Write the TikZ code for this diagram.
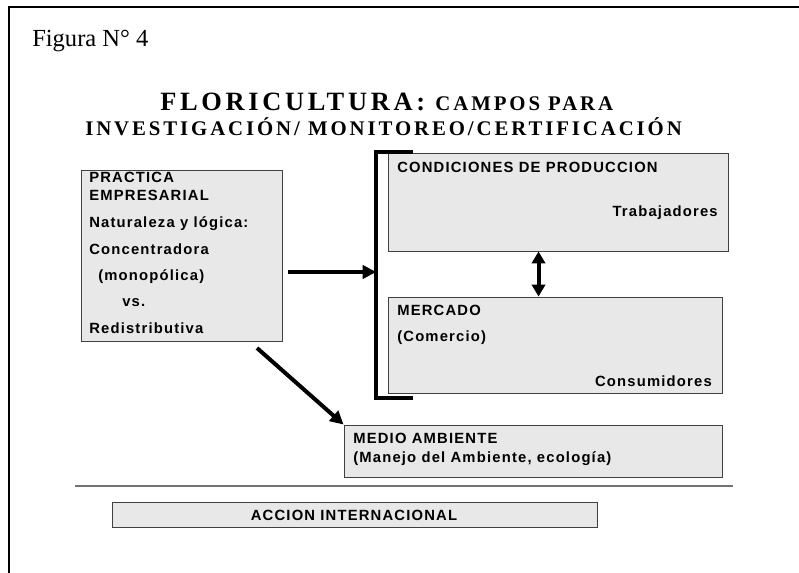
\documentclass[tikz,border=0pt]{standalone}
\usepackage{fontspec}
\setmainfont{Liberation Serif}
\newfontfamily\boxfont[LetterSpace=8]{Liberation Sans}
\newfontfamily\titlefont[LetterSpace=14]{Liberation Serif}
\usetikzlibrary{arrows.meta,fit,calc}

\begin{document}
\begin{tikzpicture}
	[x=0.75pt,y=-0.75pt,
	panel/.style = {
		draw=black!75,
		fill=black!9,
		line width=0.7pt,
		inner sep=0pt
	},
	txt/.style = {
		inner sep=0pt,
		anchor=base west,
		font=\boxfont\bfseries\fontsize{11.1}{13}\selectfont
	},
	rtxt/.style = {
		txt,
		anchor=base east
	},
	bigarrow/.style = {
		line width=3pt,
		-{Triangle[length=10pt,width=10pt]}
	},
	dblarrow/.style = {
		line width=3pt,
		{Triangle[length=9pt,width=10pt]}-{Triangle[length=9pt,width=10pt]}
	},
	frame/.style = {
		line width=2pt
	},
	bracket/.style = {
		line width=3pt
	},
	rule/.style = {
		line width=1.5pt,
		draw=black!55
	}]
	
	\useasboundingbox (0,0) rectangle (799,573);
	
	%Frame
	\coordinate (tl) at (9,7);
	\coordinate (tr) at (799,7);
	\coordinate (bl) at (9,573);
	\draw[frame] (tr) -- (tl) -- (bl);
	
	%Titles
	\node[inner sep=0pt,anchor=base west,font=\fontsize{18.4}{20}\selectfont] (fig) at (32,47) {Figura N° 4};
	\node[inner sep=0pt,anchor=base west,font=\titlefont\bfseries] (title1) at (160,111)
		{\fontsize{19.8}{22}\selectfont FLORICULTURA: \fontsize{15.6}{17}\selectfont CAMPOS PARA};
	\node[inner sep=0pt,anchor=base west,font=\titlefont\bfseries\fontsize{15.6}{18}\selectfont] (title2) at (85,136)
		{INVESTIGACIÓN/ MONITOREO/CERTIFICACIÓN};
	
	%Draw panels
	\node[panel, fit={(81,170) (282,341)}] (practica) {};
	\node[panel, fit={(388,153) (728,251)}] (condiciones) {};
	\node[panel, fit={(388,297) (722,393)}] (mercado) {};
	\node[panel, fit={(344,425) (722,477)}] (medio) {};
	\node[panel, fit={(112,502) (597,527)}] (accion) {};
	
	%Panel texts
	\node[txt] (p1) at (89,183) {PRACTICA};
	\node[txt] (p2) at (89,201) {EMPRESARIAL};
	\node[txt] (p3) at (89,228) {Naturaleza y lógica:};
	\node[txt] (p4) at (89,255) {Concentradora};
	\node[txt] (p5) at (98,281) {(monopólica)};
	\node[txt] (p6) at (122,307) {vs.};
	\node[txt] (p7) at (89,334) {Redistributiva};
	
	\node[txt] (c1) at (397,173) {CONDICIONES DE PRODUCCION};
	\node[rtxt] (c2) at (718,217) {Trabajadores};
	
	\node[txt] (m1) at (397,316) {MERCADO};
	\node[txt] (m2) at (397,342) {(Comercio)};
	\node[rtxt] (m3) at (712,386) {Consumidores};
	
	\node[txt] (a1) at (353,443) {MEDIO AMBIENTE};
	\node[txt] (a2) at (353,462) {(Manejo del Ambiente, ecología)};
	
	\node[txt,anchor=base] (i1) at (354,520) {ACCION INTERNACIONAL};
	
	%Bracket
	\coordinate (brtop) at (413,152);
	\coordinate (brbot) at (413,398);
	\coordinate (brmid) at (376,272);
	\draw[bracket] (brtop) -| (brmid) |- (brbot);
	
	%Draw arrows
	\coordinate (arrin) at (288,272);
	\draw[bigarrow] (arrin) -- (brmid);
	
	\coordinate (diagin) at (257,348);
	\draw[bigarrow] (diagin) -- (medio.north west);
	
	\draw[dblarrow] ($(condiciones.south west)+(151,0)$) -- ($(mercado.north west)+(151,0)$);
	
	%Separator
	\coordinate (rl) at (75,486);
	\coordinate (rr) at (733,486);
	\draw[rule] (rl) -- (rr);
	
\end{tikzpicture}
\end{document}
